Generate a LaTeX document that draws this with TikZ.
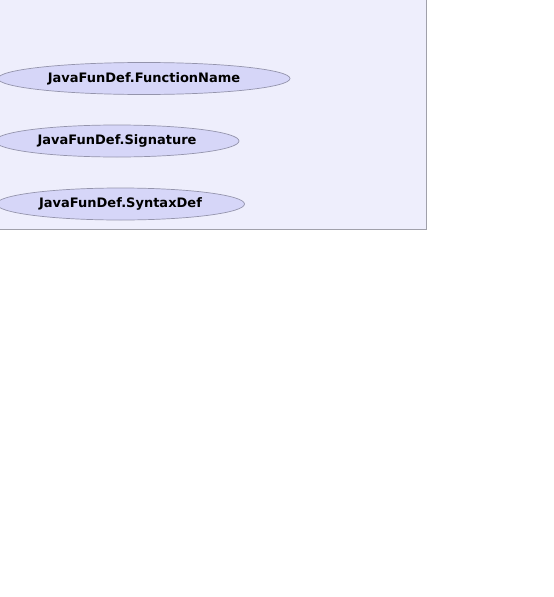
\documentclass[tikz,border=0pt]{standalone}
\usepackage{fontspec}
\setmainfont{DejaVu Sans}
\usetikzlibrary{shapes.geometric}
\definecolor{boxfill}{HTML}{EEEEFC}
\definecolor{boxdraw}{HTML}{A0A0AA}
\definecolor{ellfill}{HTML}{D6D6F8}
\definecolor{elldraw}{HTML}{9494AC}
\tikzset{
  x=1pt, y=-1pt,
  item/.style={ellipse, draw=elldraw, fill=ellfill, line width=0.7pt, inner sep=0pt,
    font=\fontsize{13}{15}\selectfont\bfseries, text=black}
}
\begin{document}
\begin{tikzpicture}
\useasboundingbox (0,0) rectangle (554,597);
\draw[boxdraw, fill=boxfill, line width=0.9pt] (-5,-5) rectangle (426.5,229.5);
\node[item, minimum width=292pt, minimum height=32pt] (fn) at (144,78.5) {JavaFunDef.FunctionName};
\node[item, minimum width=244pt, minimum height=32pt] (sig) at (117,141) {JavaFunDef.Signature};
\node[item, minimum width=248pt, minimum height=32pt] (syn) at (120.5,204) {JavaFunDef.SyntaxDef};
\end{tikzpicture}
\end{document}
